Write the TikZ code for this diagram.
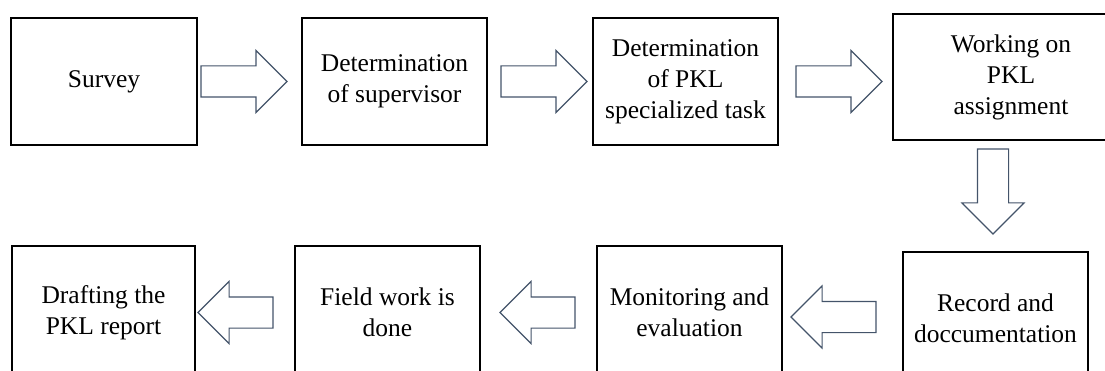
\documentclass[tikz,border=0pt]{standalone}
\usepackage{fontspec}
\setmainfont{Liberation Serif}
\usetikzlibrary{shapes.arrows}
\definecolor{arrowblue}{HTML}{44546A}

\begin{document}
\begin{tikzpicture}[x=1pt,y=-1pt,
  box/.style={draw=black,line width=2pt,align=center,inner sep=0pt,
    font=\fontsize{25.5}{31}\selectfont},
  blockarrow/.style={single arrow,draw=arrowblue,line width=1.1pt,fill=white,
    inner sep=15pt,outer sep=0pt,single arrow head extend=15.5pt,
    single arrow tip angle=90,anchor=tail}]
\useasboundingbox (0,0) rectangle (1105,371);
\clip (0,0) rectangle (1105,371);

% upper row, left to right
\node[box,minimum width=186pt,minimum height=127pt] (survey) at (104,81.5) {Survey};
\node[box,minimum width=185pt,minimum height=127pt] (superv) at (394.5,81.5) {Determination\\of supervisor};
\node[box,minimum width=185pt,minimum height=127pt] (task) at (685.5,81.5) {Determination\\of PKL\\specialized task};
\node[box,minimum width=236pt,minimum height=126pt] (work) at (1011,77) {Working on\\PKL\\assignment};

% lower row, right to left
\node[box,minimum width=185pt,minimum height=133pt] (record) at (995.5,318.5) {Record and\\doccumentation};
\node[box,minimum width=185pt,minimum height=133pt] (monitor) at (689.5,312.5) {Monitoring and\\evaluation};
\node[box,minimum width=185pt,minimum height=133pt] (field) at (387.5,312.5) {Field work is\\done};
\node[box,minimum width=183pt,minimum height=133pt] (draft) at (103.5,312.5) {Drafting the\\PKL report};

% block arrows
\node[blockarrow,minimum height=86pt] (a1) at ([xshift=3pt]survey.east) {};
\node[blockarrow,minimum height=86pt] (a2) at ([xshift=13pt]superv.east) {};
\node[blockarrow,minimum height=86pt] (a3) at ([xshift=17pt]task.east) {};
\node[blockarrow,shape border rotate=270,minimum height=85pt] (a4) at ([xshift=-18pt,yshift=-8pt]work.south) {};
\node[blockarrow,shape border rotate=180,minimum height=85pt] (a5) at ([xshift=-26pt,yshift=1.5pt]record.west) {};
\node[blockarrow,shape border rotate=180,minimum height=75pt] (a6) at ([xshift=-21pt]monitor.west) {};
\node[blockarrow,shape border rotate=180,minimum height=75pt] (a7) at ([xshift=-21pt]field.west) {};
\end{tikzpicture}
\end{document}
